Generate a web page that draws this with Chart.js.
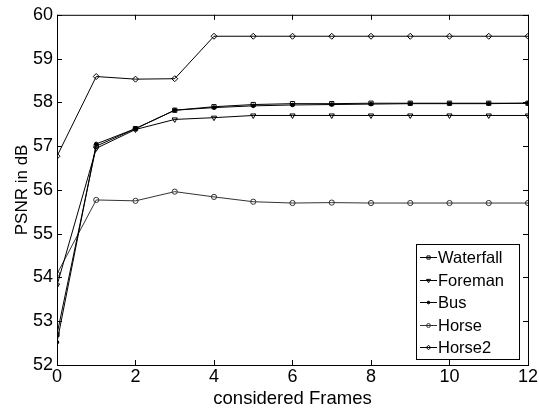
<!DOCTYPE html>
<html>
<head>
<meta charset="utf-8">
<script src="https://cdn.jsdelivr.net/npm/chart.js@4.4.1/dist/chart.umd.min.js"></script>
<style>
  html, body { margin: 0; padding: 0; background: #fff; }
  #wrap { width: 539px; height: 410px; }
</style>
</head>
<body>
<div id="wrap"><canvas id="chart" width="539" height="410"></canvas></div>
<script>
// ── Data ──────────────────────────────────────────────────────────────────────
const frames = [0, 1, 2, 3, 4, 5, 6, 7, 8, 9, 10, 11, 12];

const waterfall = [52.70, 57.00, 57.40, 57.82, 57.90, 57.95, 57.97, 57.97, 57.98, 57.98, 57.98, 57.98, 57.98];
const foreman   = [53.82, 56.95, 57.38, 57.61, 57.65, 57.70, 57.70, 57.70, 57.70, 57.70, 57.70, 57.70, 57.70];
const bus       = [52.52, 57.05, 57.40, 57.82, 57.88, 57.92, 57.94, 57.95, 57.96, 57.97, 57.97, 57.97, 57.98];
const horse     = [54.08, 55.77, 55.75, 55.96, 55.84, 55.73, 55.70, 55.71, 55.70, 55.70, 55.70, 55.70, 55.70];
const horse2    = [56.77, 58.59, 58.53, 58.54, 59.51, 59.51, 59.51, 59.51, 59.51, 59.51, 59.51, 59.51, 59.51];

const xTicks = [0, 2, 4, 6, 8, 10, 12];
const yTicks = [52, 53, 54, 55, 56, 57, 58, 59, 60];

const FONT = "'Liberation Sans', Arial, sans-serif";

function series(label, data, style, radius, rotation, color, fill) {
  return {
    label,
    data: data.map((y, i) => ({ x: frames[i], y })),
    borderColor: color,
    borderWidth: 1,
    pointStyle: style,
    pointRadius: radius,
    pointRotation: rotation,
    pointBorderColor: color,
    pointBackgroundColor: fill,
    pointBorderWidth: 1,
    tension: 0,
  };
}

const datasets = [
  series('Waterfall', waterfall, 'rect', 3, 0, '#000', 'rgba(0,0,0,0)'),
  series('Foreman', foreman, 'triangle', 3, 180, '#000', 'rgba(0,0,0,0)'),
  series('Bus', bus, 'circle', 1.8, 0, '#000', '#000'),
  series('Horse', horse, 'circle', 2.6, 0, '#333', 'rgba(0,0,0,0)'),
  series('Horse2', horse2, 'rectRot', 3, 0, '#000', 'rgba(0,0,0,0)'),
];

// ── Box, inward ticks and legend (MATLAB look) ───────────────────────────────
const matlabFrame = {
  id: 'matlabFrame',
  afterDraw(chart) {
    const { ctx, chartArea: a, scales: { x, y } } = chart;
    ctx.save();
    ctx.strokeStyle = '#000';
    ctx.lineWidth = 1;
    ctx.strokeRect(a.left + 0.5, a.top + 0.5, a.right - a.left, a.bottom - a.top);
    const len = 5;
    ctx.beginPath();
    xTicks.forEach(v => {
      const px = Math.round(x.getPixelForValue(v)) + 0.5;
      ctx.moveTo(px, a.bottom); ctx.lineTo(px, a.bottom - len);
      ctx.moveTo(px, a.top); ctx.lineTo(px, a.top + len);
    });
    yTicks.forEach(v => {
      const py = Math.round(y.getPixelForValue(v)) + 0.5;
      ctx.moveTo(a.left, py); ctx.lineTo(a.left + len, py);
      ctx.moveTo(a.right, py); ctx.lineTo(a.right - len, py);
    });
    ctx.stroke();

    // legend box
    const bx = 416, by = 244, bw = 103, bh = 115, rowH = 22.5;
    ctx.fillStyle = '#fff';
    ctx.fillRect(bx, by, bw, bh);
    ctx.strokeRect(bx + 0.5, by + 0.5, bw, bh);
    ctx.font = '16.5px ' + FONT;
    ctx.textBaseline = 'middle';
    chart.data.datasets.forEach((ds, i) => {
      const cy = Math.round(by + 13 + i * rowH) + 0.5;
      ctx.strokeStyle = ds.borderColor;
      ctx.beginPath();
      ctx.moveTo(bx + 4, cy); ctx.lineTo(bx + 21, cy);
      ctx.stroke();
      ctx.fillStyle = ds.pointBackgroundColor;
      Chart.helpers.drawPoint(ctx, {
        pointStyle: ds.pointStyle,
        radius: ds.pointRadius * 0.75,
        rotation: ds.pointRotation,
        borderWidth: 1,
      }, bx + 12.5, cy);
      ctx.fillStyle = '#000';
      ctx.fillText(ds.label, bx + 22, cy + 1);
    });
    ctx.restore();
  }
};

new Chart(document.getElementById('chart'), {
  type: 'line',
  data: { datasets },
  options: {
    responsive: false,
    animation: false,
    layout: { padding: { top: 12, right: 10, left: 0, bottom: 0 } },
    plugins: { legend: { display: false }, tooltip: { enabled: false } },
    scales: {
      x: {
        type: 'linear',
        min: 0, max: 12,
        afterBuildTicks: s => { s.ticks = xTicks.map(v => ({ value: v })); },
        afterFit: s => { s.height = 45; },
        grid: { display: false, drawTicks: false },
        border: { display: false },
        ticks: { color: '#000', font: { family: FONT, size: 18 }, padding: 1, maxRotation: 0 },
        title: { display: true, text: 'considered Frames', color: '#000', font: { family: FONT, size: 18.5 }, padding: { top: -5, bottom: 0 } },
      },
      y: {
        type: 'linear',
        min: 52, max: 60,
        afterBuildTicks: s => { s.ticks = yTicks.map(v => ({ value: v })); },
        afterFit: s => { s.width = 57; },
        grid: { display: false, drawTicks: false },
        border: { display: false },
        ticks: { color: '#000', font: { family: FONT, size: 18 }, padding: 4 },
        title: { display: true, text: 'PSNR in dB', color: '#000', font: { family: FONT, size: 17 }, padding: { top: 12, bottom: 0 } },
      },
    },
  },
  plugins: [matlabFrame],
});
</script>
</body>
</html>
